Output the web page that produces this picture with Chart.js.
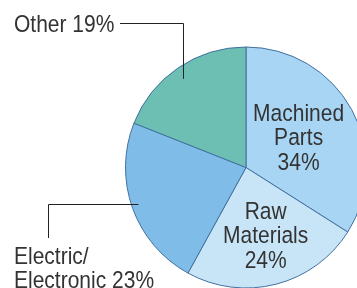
<!DOCTYPE html>
<html>
<head>
<meta charset="utf-8">
<script src="https://cdn.jsdelivr.net/npm/chart.js@4.4.0/dist/chart.umd.min.js"></script>
<style>
  html, body { margin: 0; padding: 0; overflow: hidden; background: #fff; }
  #wrap { position: absolute; left: 0; top: 0; width: 380px; height: 300px; }
</style>
</head>
<body>
<div id="wrap"><canvas id="pieChart"></canvas></div>
<script>
// data
const categories = ['Machined Parts', 'Raw Materials', 'Electric/Electronic', 'Other'];
const shares = [34, 24, 23, 19];
const sliceColors = ['#a9d5f4', '#c8e5f7', '#80bce8', '#6dbfb4'];

// label lines (text rows) for each slice
const labelLines = [
    ['Machined', 'Parts', '34%'],
    ['Raw', 'Materials', '24%'],
    ['Electric/', 'Electronic 23%'],
    ['Other 19%']
];

const FONT = '21px "Liberation Sans", Arial, sans-serif';
const TEXT = '#333333';

// point at a given fraction of the radius along the slice mid angle
function midPoint(arc, frac) {
    const a = (arc.startAngle + arc.endAngle) / 2;
    const r = arc.outerRadius * frac;
    return { x: arc.x + Math.cos(a) * r, y: arc.y + Math.sin(a) * r };
}

// the source font is a bit taller than Arial, stretch slightly
function drawText(ctx, t, x, y) {
    ctx.save();
    ctx.translate(x, y);
    ctx.scale(1, 1.1);
    ctx.fillText(t, 0, 0);
    ctx.restore();
}

const labelPlugin = {
    id: 'pieLabels',
    afterDatasetsDraw(chart) {
        const ctx = chart.ctx;
        const arcs = chart.getDatasetMeta(0).data;
        ctx.save();
        ctx.font = FONT;
        ctx.fillStyle = TEXT;
        ctx.textBaseline = 'alphabetic';

        // inside labels
        ctx.textAlign = 'center';
        const p0 = midPoint(arcs[0], 0.47);
        labelLines[0].forEach((t, i) => drawText(ctx, t, p0.x + 3, p0.y + (i - 1) * 24.5 + 5));
        const p1 = midPoint(arcs[1], 0.64);
        labelLines[1].forEach((t, i) => drawText(ctx, t, p1.x + 0.5, p1.y + (i - 1) * 24.5 + 1));

        // leader lines
        ctx.strokeStyle = '#222';
        ctx.lineWidth = 1;
        const pOther = midPoint(arcs[3], 0.9);
        ctx.beginPath();
        ctx.moveTo(Math.round(pOther.x) - 1.5, pOther.y + 1);
        ctx.lineTo(Math.round(pOther.x) - 1.5, 23.5);
        ctx.lineTo(120, 23.5);
        ctx.stroke();
        ctx.textAlign = 'left';
        drawText(ctx, labelLines[3][0], 14, 31.5);

        const pEl = midPoint(arcs[2], 0.94);
        ctx.beginPath();
        ctx.moveTo(pEl.x - 1, Math.round(pEl.y) - 1.5);
        ctx.lineTo(48.5, Math.round(pEl.y) - 1.5);
        ctx.lineTo(48.5, 238);
        ctx.stroke();
        drawText(ctx, labelLines[2][0], 14, 264);
        drawText(ctx, labelLines[2][1], 14, 287.5);
        ctx.restore();
    }
};

const pieCtx = document.getElementById('pieChart').getContext('2d');
const pieChart = new Chart(pieCtx, {
    type: 'pie',
    data: {
        labels: categories,
        datasets: [{
            data: shares,
            backgroundColor: sliceColors,
            borderColor: '#41709f',
            borderWidth: 1
        }]
    },
    options: {
        responsive: true,
        maintainAspectRatio: false,
        animation: false,
        layout: {
            padding: { left: 125, right: 13, top: 46, bottom: 11 }
        },
        plugins: {
            legend: { display: false },
            tooltip: { enabled: false }
        }
    },
    plugins: [labelPlugin]
});
</script>
</body>
</html>
